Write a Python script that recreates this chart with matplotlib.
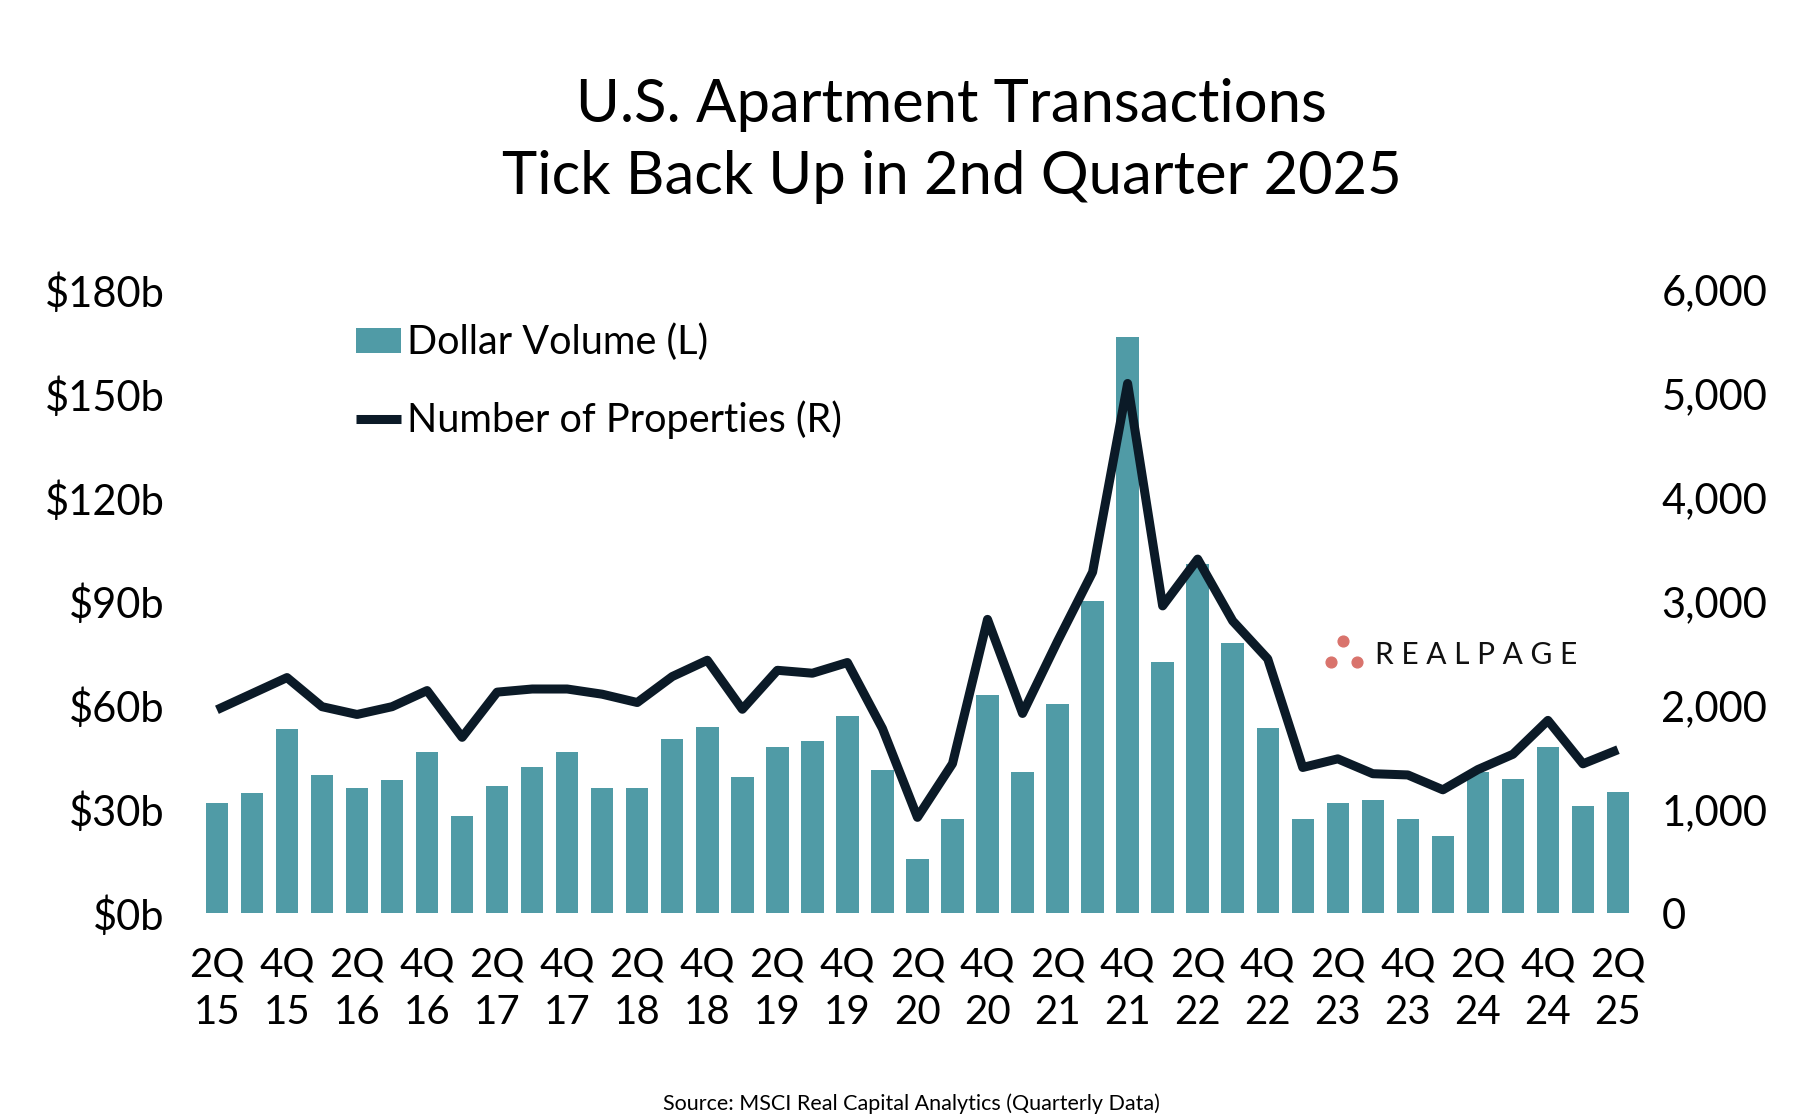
import matplotlib
matplotlib.use("Agg")
import matplotlib.pyplot as plt
import numpy as np

quarters = ["2Q15", "3Q15", "4Q15", "1Q16", "2Q16", "3Q16", "4Q16", "1Q17", "2Q17", "3Q17",
            "4Q17", "1Q18", "2Q18", "3Q18", "4Q18", "1Q19", "2Q19", "3Q19", "4Q19", "1Q20",
            "2Q20", "3Q20", "4Q20", "1Q21", "2Q21", "3Q21", "4Q21", "1Q22", "2Q22", "3Q22",
            "4Q22", "1Q23", "2Q23", "3Q23", "4Q23", "1Q24", "2Q24", "3Q24", "4Q24", "1Q25",
            "2Q25"]

# dollar volume, $ billions (left axis)
dollar_volume = [31.8, 34.7, 53.3, 39.9, 36.2, 38.4, 46.7, 28.1, 36.9, 42.3,
                 46.7, 36.2, 36.2, 50.4, 53.9, 39.4, 48.2, 49.8, 56.9, 41.5,
                 15.7, 27.4, 63.1, 40.7, 60.6, 90.2, 166.4, 72.6, 101.0, 78.1,
                 53.5, 27.3, 32.0, 32.9, 27.3, 22.4, 40.9, 38.8, 48.2, 31.1,
                 35.0]

# number of properties (right axis)
properties = [1960, 2115, 2270, 1990, 1915, 1990, 2145, 1695, 2130, 2160,
              2160, 2110, 2030, 2280, 2437, 1965, 2340, 2312, 2415, 1780,
              925, 1442, 2830, 1925, 2620, 3285, 5100, 2960, 3410, 2815,
              2450, 1405, 1488, 1345, 1333, 1190, 1385, 1532, 1858, 1440,
              1576]

tick_labels = ["2Q\n15", "4Q\n15", "2Q\n16", "4Q\n16", "2Q\n17", "4Q\n17", "2Q\n18",
               "4Q\n18", "2Q\n19", "4Q\n19", "2Q\n20", "4Q\n20", "2Q\n21", "4Q\n21",
               "2Q\n22", "4Q\n22", "2Q\n23", "4Q\n23", "2Q\n24", "4Q\n24", "2Q\n25"]

BAR = "#509BA6"
LINE = "#0B1A27"
DOT = "#D9736C"

plt.rcParams["font.family"] = ["Lato", "DejaVu Sans"]

fig = plt.figure(figsize=(18.2, 11.2), dpi=100)
ax = fig.add_axes([0.1038, 0.1844, 0.8006, 0.5567])
ax2 = ax.twinx()

x = np.arange(len(quarters))
bars = ax.bar(x, dollar_volume, width=0.64, color=BAR, label="Dollar Volume (L)", zorder=2)
ln, = ax2.plot(x, properties, color=LINE, lw=6.5, solid_joinstyle="round",
               solid_capstyle="butt", label="Number of Properties (R)", zorder=3)

ax.set_xlim(-0.8, len(quarters) - 0.2)
ax.set_ylim(0, 180)
ax2.set_ylim(0, 6000)
ax.set_yticks(np.arange(0, 181, 30))
ax.set_yticklabels(["$%db" % v for v in range(0, 181, 30)])
ax2.set_yticks(np.arange(0, 6001, 1000))
ax2.set_yticklabels(["{:,}".format(v) for v in range(0, 6001, 1000)])
ax.set_xticks(x[::2])
ax.set_xticklabels(tick_labels, fontsize=29, linespacing=1.33)

ax.tick_params(axis="y", length=0, labelsize=30, pad=17.5)
ax2.tick_params(axis="y", length=0, labelsize=30, pad=11)
ax.tick_params(axis="x", length=0, pad=24)
for a in (ax, ax2):
    for s in a.spines.values():
        s.set_visible(False)

fig.text(0.523, 0.874, "U.S. Apartment Transactions\nTick Back Up in 2nd Quarter 2025",
         ha="center", va="center", fontsize=43, linespacing=1.41)

fig.legend(handles=[bars, ln], loc="upper left", bbox_to_anchor=(0.176, 0.743),
           frameon=False, fontsize=28.5, handlelength=1.15, handletextpad=0.15,
           labelspacing=1.0, handleheight=0.6)

# RealPage logo
fig.text(0.7555, 0.415, "R E A L P A G E", fontsize=21.5, va="center", ha="left",
         color="#111111")
ax.scatter([0.7378, 0.7313, 0.7456], [0.4275, 0.4085, 0.4085], s=60, color=DOT,
           transform=fig.transFigure, clip_on=False, zorder=5)

fig.text(0.501, 0.0143, "Source: MSCI Real Capital Analytics (Quarterly Data)",
         fontsize=15.5, ha="center", va="center")

fig.savefig("out.png", dpi=100)
